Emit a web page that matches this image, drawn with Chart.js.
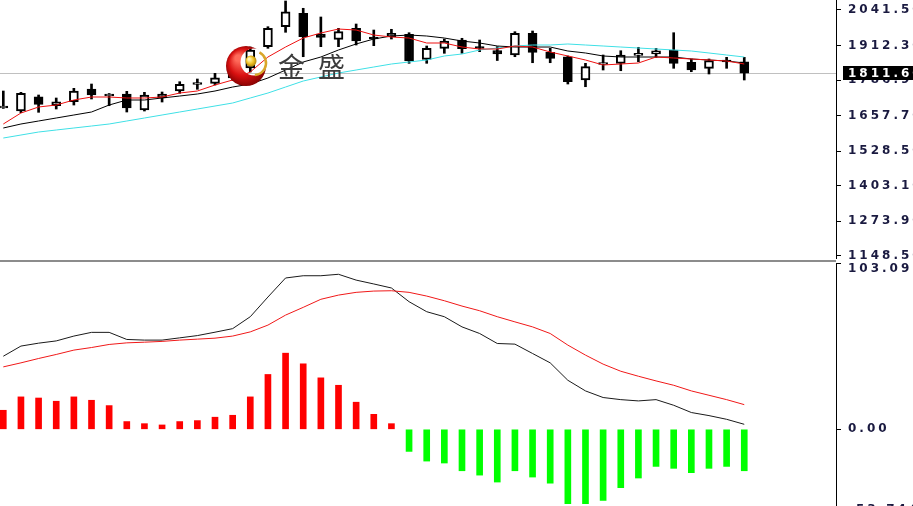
<!DOCTYPE html>
<html><head><meta charset="utf-8">
<script src="https://cdn.jsdelivr.net/npm/chart.js@4/dist/chart.umd.min.js"></script>
<style>
html,body{margin:0;padding:0;background:#fff;overflow:hidden;width:913px;height:506px;}
#wrap{position:relative;width:913px;height:506px;overflow:hidden;background:#fff;}
#price{position:absolute;left:0;top:0;}
#macd{position:absolute;left:0;top:263px;}
#sep{position:absolute;left:0;top:260px;width:836px;height:2px;background:#8c8c8c;}
</style></head><body>
<div id="wrap">
<canvas id="price" width="913" height="259"></canvas>
<div id="sep"></div>
<canvas id="macd" width="913" height="253"></canvas>
</div>
<script>
// ---- price panel data (one entry per bar) ----
const opens  = [1685.4,1674.5,1726.5,1693.8,1708.3,1754.5,1729.0,1736.3,1678.2,1721.8,1747.2,1770.8,1775.2,1794.4,1830.8,1908.2,1980.8,2029.5,1954.3,1935.0,1975.0,1937.9,1944.5,1953.2,1862.4,1902.3,1932.5,1903.4,1894.3,1878.0,1956.8,1887.8,1871.8,1787.2,1843.5,1847.8,1876.9,1881.6,1896.2,1851.5,1829.7,1854.4,1853.6];
const highs  = [1747.2,1742.5,1732.7,1721.8,1757.0,1772.6,1738.1,1746.1,1742.5,1743.6,1781.0,1790.8,1811.5,1830.8,1907.1,1980.8,2074.2,2047.7,2016.1,1975.0,1990.6,1968.8,1971.4,1959.0,1910.7,1936.1,1938.7,1932.5,1908.2,1962.7,1965.2,1902.3,1874.4,1847.8,1878.0,1893.6,1906.0,1902.3,1959.0,1863.5,1863.5,1869.6,1869.6];
const lows   = [1684.0,1668.4,1669.8,1681.8,1696.3,1718.2,1693.8,1670.9,1674.5,1707.2,1738.9,1753.4,1769.0,1787.2,1816.3,1902.3,1960.5,1871.8,1908.2,1908.2,1914.3,1911.8,1936.1,1847.8,1847.8,1884.2,1884.2,1890.0,1858.0,1871.8,1850.0,1850.0,1772.6,1762.8,1823.5,1820.9,1853.6,1869.6,1829.7,1817.3,1809.0,1829.7,1787.2];
const closes = [1686.5,1738.9,1698.9,1708.3,1747.2,1732.7,1732.7,1685.4,1732.7,1736.3,1771.5,1772.6,1795.5,1816.3,1896.2,1975.0,2035.3,1944.5,1941.6,1962.7,1928.9,1936.1,1956.8,1856.2,1902.3,1928.9,1900.9,1901.6,1882.3,1956.8,1887.8,1866.0,1781.0,1835.5,1847.1,1878.0,1878.7,1893.6,1847.8,1823.5,1857.3,1852.6,1811.6];
const maRed   = [1627.3,1667.3,1689.1,1696.3,1714.5,1725.4,1725.4,1721.8,1721.8,1725.4,1739.9,1747.2,1769.0,1787.2,1816.2,1870.7,1907.0,1939.7,1957.9,1972.4,1968.8,1950.6,1943.4,1939.7,1921.6,1921.6,1907.0,1899.8,1899.8,1910.7,1907.0,1888.9,1874.4,1859.8,1841.7,1845.3,1848.9,1870.7,1867.1,1863.5,1859.8,1856.2,1845.3];
const maBlack = [1612.8,1627.3,1638.2,1649.1,1660.0,1670.9,1696.3,1714.5,1714.5,1721.8,1729.0,1736.3,1747.2,1761.7,1772.6,1794.4,1823.5,1852.6,1870.7,1896.2,1918.0,1936.1,1947.0,1950.6,1947.0,1939.7,1928.8,1921.6,1910.7,1907.0,1907.0,1907.0,1892.5,1885.3,1874.4,1870.7,1870.7,1870.7,1870.7,1863.5,1859.8,1856.2,1848.9];
const maCyan  = [1576.4,1587.3,1598.2,1605.5,1612.8,1620.0,1627.3,1638.2,1649.1,1660.0,1670.9,1681.8,1692.7,1703.6,1721.8,1739.9,1761.7,1783.5,1798.1,1812.6,1823.5,1834.4,1845.3,1852.6,1859.8,1874.4,1881.6,1896.2,1903.4,1910.7,1914.3,1914.3,1918.0,1914.3,1910.7,1907.0,1903.4,1899.8,1896.2,1892.5,1885.3,1878.0,1870.7];
const priceTickValues = [2041.5,1912.3,1786.9,1657.7,1528.5,1403.1,1273.9,1148.5];
const priceTickLabels = ['2041.50','1912.30','1786.90','1657.70','1528.50','1403.10','1273.90','1148.50'];
const lastPrice = 1811.6;
const lastPriceLabel = '1811.60';
const watermarkText = ['金','盛'];

// ---- MACD panel data ----
const macdHist = [11.8,20.1,19.4,17.4,20.1,18.0,14.7,4.8,3.5,2.7,4.8,5.4,7.5,8.7,20.1,34.0,47.2,40.6,31.9,27.3,16.8,9.3,3.5,-13.7,-19.7,-20.9,-25.7,-28.4,-32.7,-25.7,-29.6,-33.4,-46.1,-46.1,-44.1,-36.2,-30.2,-23.0,-24.2,-26.9,-24.2,-23.0,-25.7];
const macdDif  = [45.3,51.6,53.4,54.8,57.8,60.1,60.1,55.7,55.3,55.3,56.7,58.1,60.2,62.4,69.8,82.0,93.8,95.2,95.2,96.1,92.5,90.1,87.6,79.1,72.9,69.8,63.5,59.4,53.2,52.8,47.0,41.2,30.4,23.8,19.7,18.4,17.6,18.4,14.9,10.4,8.5,6.2,3.1];
const macdDea  = [38.7,41.2,43.9,46.4,49.1,50.7,52.6,53.6,54.0,54.5,55.3,55.9,56.5,57.8,60.4,64.6,70.8,75.6,80.6,83.2,84.9,85.7,85.9,84.9,82.6,79.7,76.4,73.5,69.8,66.6,63.5,59.4,52.2,46.0,40.4,36.0,32.9,30.0,27.3,23.8,21.1,18.4,15.3];
const macdTickValues = [103.098,0,-53.744];
const macdTickLabels = ['103.098','0.00','-53.744'];

const X_MIN = -0.187, X_MAX = 47.2;
const AXIS_W = 77;
const LETTER_SP = '3px';
const tickFont = {family:'DejaVu Sans', size:12, weight:'bold'};
const tickColor = '#1a1a40';

function pts(arr){ return arr.map((v,i)=>({x:i,y:v})); }

function yAxis(min,max,vals,labels){
  return {
    type:'linear', position:'right', min:min, max:max,
    afterBuildTicks(sc){ sc.ticks = vals.map(v=>({value:v})); },
    afterFit(sc){ sc.width = AXIS_W; sc.paddingTop=0; sc.paddingBottom=0; sc.paddingLeft=0; sc.paddingRight=0; },
    ticks:{ callback:(v,i)=>labels[i], font:tickFont, color:tickColor, padding:7, autoSkip:false, crossAlign:'near' },
    grid:{ drawOnChartArea:false, drawTicks:true, tickLength:5, color:'#000', tickColor:'#000', tickWidth:1 },
    border:{ display:true, color:'#000', width:1 }
  };
}
const xAxis = { type:'linear', min:X_MIN, max:X_MAX, offset:false, display:false };

function drawLogo(ctx){
  const cx=246, cy=66, R=20;
  const off=document.createElement('canvas'); off.width=60; off.height=60;
  const o=off.getContext('2d');
  const g=o.createRadialGradient(22,22,3,30,30,22);
  g.addColorStop(0,'#ff6a5a'); g.addColorStop(0.55,'#d81010'); g.addColorStop(1,'#7a0000');
  o.fillStyle=g; o.beginPath(); o.arc(30,30,R,0,Math.PI*2); o.fill();
  o.globalCompositeOperation='destination-out';
  o.beginPath(); o.arc(38,26,13.5,0,Math.PI*2); o.fill();
  ctx.drawImage(off,cx-30,cy-30);
  ctx.strokeStyle='#d9a62a'; ctx.lineWidth=2.5;
  ctx.beginPath(); ctx.arc(cx+8,cy-3,12,-1.1,1.5); ctx.stroke();
  const gb=ctx.createRadialGradient(cx+3,cy-7,1,cx+5,cy-5,6);
  gb.addColorStop(0,'#fff6b0'); gb.addColorStop(0.5,'#f2c42a'); gb.addColorStop(1,'#a87a00');
  ctx.fillStyle=gb; ctx.beginPath(); ctx.arc(cx+5,cy-5,5.5,0,Math.PI*2); ctx.fill();
}

const pricePlugin = {
  id:'priceDeco',
  beforeDraw(chart){ chart.ctx.letterSpacing=LETTER_SP; },
  beforeDatasetsDraw(chart){
    const ctx=chart.ctx, a=chart.chartArea, y=Math.round(chart.scales.y.getPixelForValue(lastPrice))+0.5;
    ctx.save(); ctx.strokeStyle='#c0c0c0'; ctx.lineWidth=1;
    ctx.beginPath(); ctx.moveTo(a.left,y); ctx.lineTo(a.right,y); ctx.stroke(); ctx.restore();
  },
  afterDatasetsDraw(chart){
    const ctx=chart.ctx;
    ctx.save(); ctx.letterSpacing='0px';
    drawLogo(ctx);
    ctx.font='27px "Noto Sans CJK SC"'; ctx.fillStyle='#3c3c3c';
    ctx.textAlign='center'; ctx.textBaseline='middle';
    ctx.fillText(watermarkText[0],291.5,67); ctx.fillText(watermarkText[1],331.5,67);
    ctx.restore();
  },
  afterDraw(chart){
    const ctx=chart.ctx, y=chart.scales.y.getPixelForValue(lastPrice);
    ctx.save();
    ctx.fillStyle='#000'; ctx.fillRect(843,Math.round(y)-7,70,14);
    ctx.letterSpacing=LETTER_SP;
    ctx.font='bold 12px "DejaVu Sans"'; ctx.fillStyle='#fff'; ctx.textAlign='left'; ctx.textBaseline='middle';
    ctx.fillText(lastPriceLabel,848,y+0.5);
    ctx.restore();
  }
};

const PRICE_MAX = 2077.83, PRICE_MIN = 2077.83 - 3.633*259;

new Chart(document.getElementById('price'), {
  type:'bar',
  data:{ datasets:[
    {type:'line', data:pts(maRed), borderColor:'#ee1111', borderWidth:1, pointRadius:0, tension:0, order:0},
    {type:'line', data:pts(maBlack), borderColor:'#000000', borderWidth:1, pointRadius:0, tension:0, order:0},
    {type:'line', data:pts(maCyan), borderColor:'#3fe0e6', borderWidth:1, pointRadius:0, tension:0, order:0},
    {type:'bar', data:opens.map((o,i)=>({x:i,y:[o,closes[i]]})),
      backgroundColor:opens.map((o,i)=>closes[i]>=o?'#ffffff':'#000000'),
      borderColor:'#000', borderWidth:2, borderSkipped:false, barThickness:9, minBarLength:2, grouped:false, order:1},
    {type:'bar', data:lows.map((l,i)=>({x:i,y:[l,highs[i]]})),
      backgroundColor:'#000', borderWidth:0, barThickness:2, grouped:false, order:2}
  ]},
  options:{
    responsive:false, animation:false, events:[],
    layout:{padding:0},
    plugins:{legend:{display:false}, tooltip:{enabled:false}},
    scales:{ x:xAxis, y:yAxis(PRICE_MIN,PRICE_MAX,priceTickValues,priceTickLabels) }
  },
  plugins:[pricePlugin]
});

const macdPlugin = {
  id:'macdDeco',
  beforeDraw(chart){
    chart.ctx.letterSpacing=LETTER_SP;
    const items = chart.scales.y.getLabelItems();
    items.forEach(it=>{
      if(it.label===macdTickLabels[0]) it.options.translation[1]+=6;
      if(it.label===macdTickLabels[2]) it.options.translation[1]-=6;
    });
  }
};

new Chart(document.getElementById('macd'), {
  type:'bar',
  data:{ datasets:[
    {type:'line', data:pts(macdDea), borderColor:'#f01818', borderWidth:1, pointRadius:0, tension:0, order:0},
    {type:'line', data:pts(macdDif), borderColor:'#1a1a1a', borderWidth:1, pointRadius:0, tension:0, order:0},
    {type:'bar', data:pts(macdHist), backgroundColor:macdHist.map(v=>v>=0?'#ff0000':'#00ff00'),
      borderWidth:0, barThickness:6, grouped:false, order:1}
  ]},
  options:{
    responsive:false, animation:false, events:[],
    layout:{padding:0},
    plugins:{legend:{display:false}, tooltip:{enabled:false}},
    scales:{ x:xAxis, y:yAxis(-53.744,103.098,macdTickValues,macdTickLabels) }
  },
  plugins:[macdPlugin]
});
</script>
</body></html>
